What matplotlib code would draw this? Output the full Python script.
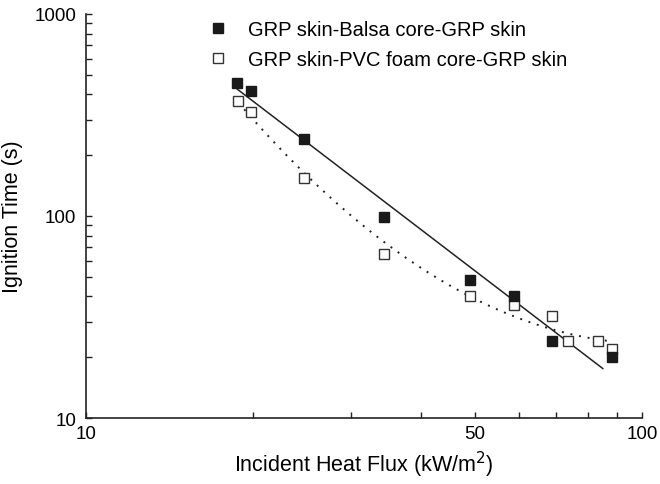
import numpy as np
import matplotlib
matplotlib.use("Agg")
import matplotlib.pyplot as plt
from matplotlib.ticker import FixedLocator, NullFormatter, FixedFormatter, LogLocator

# data
balsa_flux = [18.7, 19.8, 24.7, 34.3, 49.1, 58.9, 69.0, 88.4]
balsa_time = [455, 414, 240, 99, 48.2, 40.3, 24.1, 20.1]
pvc_flux = [18.8, 19.8, 24.7, 34.3, 49.1, 58.9, 69.0, 73.7, 83.3, 88.4]
pvc_time = [372, 328, 154, 64.8, 40.3, 36.4, 32.1, 24.1, 24.1, 22.0]
balsa_fit_range = (18.7, 85.0)
pvc_fit_range = (18.8, 88.6)

plt.rcParams['font.family'] = ['Liberation Sans', 'DejaVu Sans']

fig = plt.figure(figsize=(6.6, 4.85), dpi=100)
ax = fig.add_axes([86/660, 1-419/485, 556/660, 404/485])

# power law fit for balsa, quadratic in log-log for pvc
lx, ly = np.log10(balsa_flux), np.log10(balsa_time)
p1 = np.polyfit(lx, ly, 1)
xf = np.linspace(*balsa_fit_range, 200)
ax.plot(xf, 10**np.polyval(p1, np.log10(xf)), color='#222222', lw=1.1, zorder=2)

lx2, ly2 = np.log10(pvc_flux), np.log10(pvc_time)
p2 = np.polyfit(lx2, ly2, 2)
xf2 = np.linspace(*pvc_fit_range, 200)
ax.plot(xf2, 10**np.polyval(p2, np.log10(xf2)), color='#222222', lw=1.4,
        linestyle=(0, (1, 3.5)), zorder=2)

ax.plot(pvc_flux, pvc_time, 's', ms=7, mfc='white', mec='#333333', mew=1.0,
        label='GRP skin-PVC foam core-GRP skin', zorder=3)
ax.plot(balsa_flux, balsa_time, 's', ms=7, mfc='#1a1a1a', mec='#1a1a1a',
        label='GRP skin-Balsa core-GRP skin', zorder=4)

ax.set_xscale('log')
ax.set_yscale('log')
ax.set_xlim(10, 100)
ax.set_ylim(10, 1000)

ax.xaxis.set_major_locator(FixedLocator([10, 50, 100]))
ax.xaxis.set_major_formatter(FixedFormatter(['10', '50', '100']))
ax.xaxis.set_minor_locator(FixedLocator([20, 30, 40, 60, 70, 80, 90]))
ax.xaxis.set_minor_formatter(NullFormatter())
ax.yaxis.set_major_locator(FixedLocator([10, 100, 1000]))
ax.yaxis.set_major_formatter(FixedFormatter(['10', '100', '1000']))
ax.yaxis.set_minor_locator(LogLocator(base=10, subs=np.arange(2, 10)))
ax.yaxis.set_minor_formatter(NullFormatter())

ax.tick_params(which='both', direction='in', width=1.0, labelsize=13.5, color='#222222')
ax.tick_params(which='major', length=4)
ax.tick_params(which='minor', length=4)
ax.tick_params(axis='x', pad=5)
ax.tick_params(axis='y', pad=7)

for s in ['top', 'right']:
    ax.spines[s].set_visible(False)
for s in ['left', 'bottom']:
    ax.spines[s].set_linewidth(1.2)
    ax.spines[s].set_color('#222222')

ax.set_xlabel('Incident Heat Flux (kW/m$^2$)', fontsize=15.5, labelpad=5)
ax.set_ylabel('Ignition Time (s)', fontsize=15.5, labelpad=8)

h, l = ax.get_legend_handles_labels()
ax.legend(h[::-1], l[::-1], loc='upper left', bbox_to_anchor=(208/660, 1-21/485),
          bbox_transform=fig.transFigure, frameon=False, fontsize=14.5,
          handletextpad=1.0, labelspacing=0.55, borderaxespad=0, borderpad=0,
          handlelength=1.0)

fig.savefig('out.png', dpi=100)
